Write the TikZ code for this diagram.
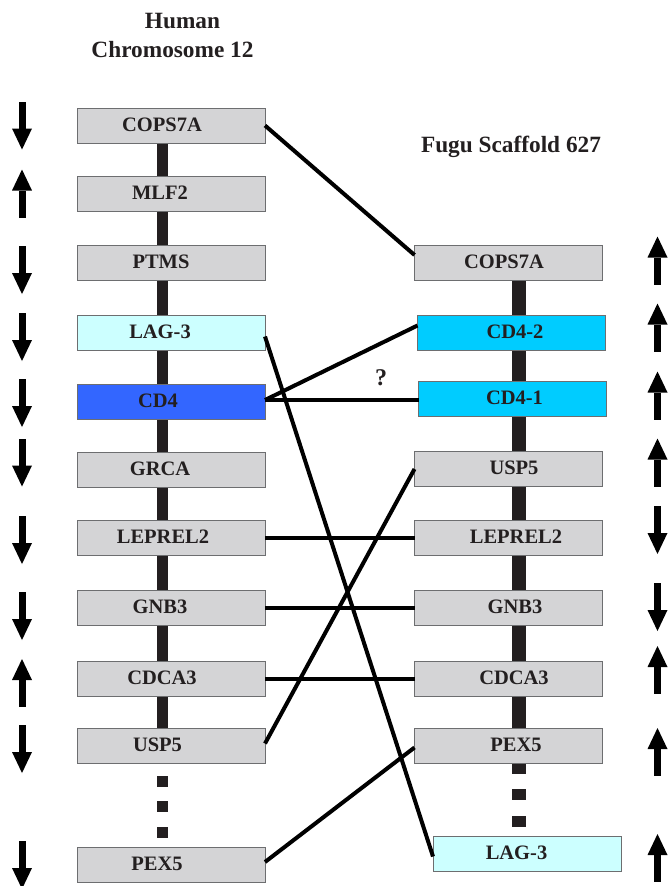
\documentclass[tikz,border=0pt]{standalone}
\usepackage{fontspec}
\setmainfont{Liberation Serif}
\usetikzlibrary{calc}
\definecolor{boxgray}{HTML}{D4D4D6}
\definecolor{boxedge}{HTML}{6D6E70}
\definecolor{lagcyan}{HTML}{CCFFFF}
\definecolor{cdblue}{HTML}{3366FF}
\definecolor{cdcyan}{HTML}{00CCFF}
\definecolor{barcol}{HTML}{231F20}
\definecolor{txt}{HTML}{231F20}
\begin{document}
\begin{tikzpicture}[x=1pt,y=-1pt,
  gene/.style={draw=boxedge, line width=1pt, fill=boxgray, minimum width=188pt, minimum height=35pt, inner sep=0pt, outer sep=0pt},
  lbl/.style={anchor=base, font=\bfseries\fontsize{20.5}{24}\selectfont, text=txt, inner sep=0pt},
  ttl/.style={anchor=base, font=\bfseries\fontsize{23.3}{28}\selectfont, text=txt, inner sep=0pt},
  link/.style={line width=4pt, black},
  downarr/.pic={\fill[black] (-3.5,-24) rectangle (3.5,3); \fill[black] (-10,3) -- (10,3) -- (0,24) -- cycle;},
  uparr/.pic={\fill[black] (-3.5,24) rectangle (3.5,-3); \fill[black] (-10,-3) -- (10,-3) -- (0,-24) -- cycle;},
]
\useasboundingbox (0,0) rectangle (667,886);

% titles
\node[ttl] (t1) at (182.5,28) {Human};
\node[ttl] (t2) at (172.5,57.5) {Chromosome 12};
\node[ttl] (t3) at (511,152.5) {Fugu Scaffold 627};

% chromosome bars
\fill[barcol] (156.5,143) rectangle (167.5,728);
\fill[barcol] (156.5,776) rectangle (167.5,787);
\fill[barcol] (156.5,801) rectangle (167.5,812);
\fill[barcol] (156.5,827) rectangle (167.5,838);
\fill[barcol] (512,280) rectangle (526,774);
\fill[barcol] (512,789) rectangle (526,800);
\fill[barcol] (512,816) rectangle (526,827);

% left genes
\node[gene] (lCOPS) at (171,125.5) {};
\node[gene] (lMLF) at (171,193.5) {};
\node[gene] (lPTMS) at (171,263) {};
\node[gene, fill=lagcyan] (lLAG) at (171,332.5) {};
\node[gene, fill=cdblue] (lCD4) at (171,402) {};
\node[gene] (lGRCA) at (171,469.5) {};
\node[gene] (lLEP) at (171,538) {};
\node[gene] (lGNB) at (171,608) {};
\node[gene] (lCDCA) at (171,678.5) {};
\node[gene] (lUSP) at (171,745.5) {};
\node[gene] (lPEX) at (171,865) {};

\node[lbl] (xlCOPS) at (162,131) {COPS7A};
\node[lbl] (xlMLF) at (160,199) {MLF2};
\node[lbl] (xlPTMS) at (161,268.5) {PTMS};
\node[lbl] (xlLAG) at (160,338) {LAG-3};
\node[lbl] (xlCD4) at (158,407.5) {CD4};
\node[lbl] (xlGRCA) at (160,475) {GRCA};
\node[lbl] (xlLEP) at (163,543.5) {LEPREL2};
\node[lbl] (xlGNB) at (160,613.5) {GNB3};
\node[lbl] (xlCDCA) at (162,684) {CDCA3};
\node[lbl] (xlUSP) at (157.5,751) {USP5};
\node[lbl] (xlPEX) at (157,870.5) {PEX5};

% right genes
\node[gene] (rCOPS) at (508.5,263) {};
\node[gene, fill=cdcyan] (rCD42) at (511.5,332.5) {};
\node[gene, fill=cdcyan] (rCD41) at (512.5,398.5) {};
\node[gene] (rUSP) at (508.5,469) {};
\node[gene] (rLEP) at (508.5,538) {};
\node[gene] (rGNB) at (508.5,608) {};
\node[gene] (rCDCA) at (508.5,678.5) {};
\node[gene] (rPEX) at (508.5,745.5) {};
\node[gene, fill=lagcyan] (rLAG) at (527,853.5) {};

\node[lbl] (xrCOPS) at (504,268.5) {COPS7A};
\node[lbl] (xrCD42) at (515,338) {CD4-2};
\node[lbl] (xrCD41) at (514.5,404) {CD4-1};
\node[lbl] (xrUSP) at (514,474.5) {USP5};
\node[lbl] (xrLEP) at (516,543.5) {LEPREL2};
\node[lbl] (xrGNB) at (515,613.5) {GNB3};
\node[lbl] (xrCDCA) at (514,684) {CDCA3};
\node[lbl] (xrPEX) at (516,751) {PEX5};
\node[lbl] (xrLAG) at (516.5,859) {LAG-3};

% connectors
\draw[link] (lCOPS.east) -- ($(rCOPS.west)+(0,-8)$);
\draw[link] ($(lLAG.east)+(0,4)$) -- ($(rLAG.west)+(0,3)$);
\draw[link] ($(lCD4.east)+(0,-2)$) -- ($(rCD42.west)+(0,-7)$);
\draw[link] ($(lCD4.east)+(0,-2)$) -- ($(rCD41.west)+(0,1.5)$);
\draw[link] (lLEP.east) -- (rLEP.west);
\draw[link] (lGNB.east) -- (rGNB.west);
\draw[link] (lCDCA.east) -- (rCDCA.west);
\draw[link] ($(lUSP.east)+(0,-2)$) -- (rUSP.west);
\draw[link] ($(lPEX.east)+(0,-3)$) -- ($(rPEX.west)+(0,2)$);
\node[lbl, font=\bfseries\fontsize{24}{28}\selectfont] (q) at (381,385) {?};

% left orientation arrows
\pic at (22,125.5) {downarr};
\pic at (22,193.5) {uparr};
\pic at (22,270) {downarr};
\pic at (22,337) {downarr};
\pic at (22,403) {downarr};
\pic at (22,462.5) {downarr};
\pic at (22,540) {downarr};
\pic at (22,616) {downarr};
\pic at (22,683) {uparr};
\pic at (22,749) {downarr};
\pic at (22,865) {downarr};

% right orientation arrows
\pic at (657.5,260.5) {uparr};
\pic at (657.5,327.5) {uparr};
\pic at (657.5,395.5) {uparr};
\pic at (657.5,462.5) {uparr};
\pic at (657.5,530) {downarr};
\pic at (657.5,607) {downarr};
\pic at (657.5,670) {uparr};
\pic at (657.5,752) {uparr};
\pic at (657.5,858) {uparr};
\end{tikzpicture}
\end{document}
